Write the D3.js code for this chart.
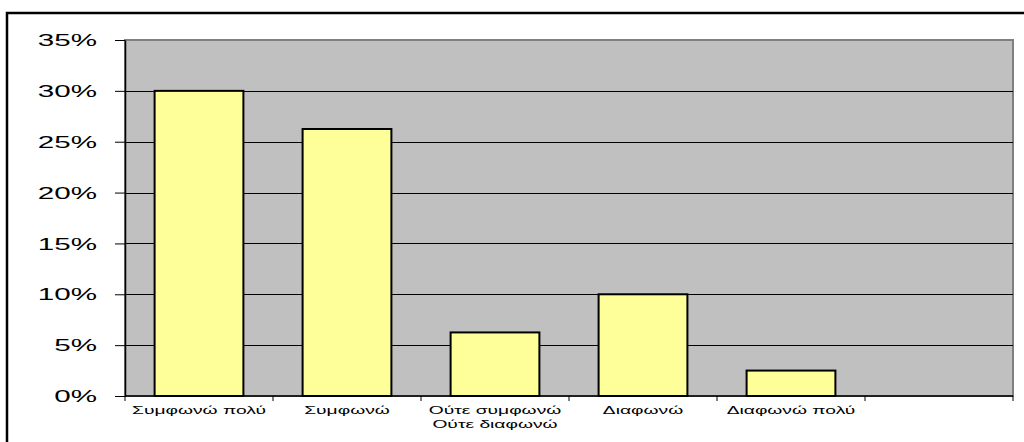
<!DOCTYPE html>
<html>
<head>
<meta charset="utf-8">
<script src="https://cdn.jsdelivr.net/npm/d3@7"></script>
<style>
  body { margin: 0; background: #fff; }
  svg { display: block; font-family: "Liberation Sans", Arial, sans-serif; }
</style>
</head>
<body>
<svg id="chart" width="1024" height="442"></svg>
<script>
// data
var categories = ["Συμφωνώ πολύ", "Συμφωνώ", "Ούτε συμφωνώ|Ούτε διαφωνώ", "Διαφωνώ", "Διαφωνώ πολύ", ""]
var values = [0.30, 0.2625, 0.0625, 0.10, 0.025, null]
var yTicks = [0, 0.05, 0.10, 0.15, 0.20, 0.25, 0.30, 0.35]

var svg = d3.select("#chart")

// outer frame (runs off right and bottom edge)
svg.append("rect")
    .attr("x", 7).attr("y", 13)
    .attr("width", 1040).attr("height", 460)
    .attr("fill", "#fff").attr("stroke", "#000").attr("stroke-width", 2.5)

var plotL = 125, plotT = 40, plotR = 1013, plotB = 396

var x = d3.scaleBand().domain(d3.range(categories.length)).range([plotL, plotR]).paddingInner(0.4).paddingOuter(0.2)
var xb = d3.scaleBand().domain(d3.range(categories.length)).range([plotL, plotR])
var y = d3.scaleLinear().domain([0, 0.35]).range([plotB, plotT])

// plot area
svg.append("rect")
    .attr("x", plotL).attr("y", plotT)
    .attr("width", plotR - plotL).attr("height", plotB - plotT)
    .attr("fill", "#c0c0c0").attr("stroke", "#808080").attr("stroke-width", 2)

// gridlines
svg.append("g").selectAll("line")
    .data(yTicks.slice(1, -1))
    .join("line")
    .attr("x1", plotL).attr("x2", plotR)
    .attr("y1", function(d) { return Math.round(y(d)) + 0.5 })
    .attr("y2", function(d) { return Math.round(y(d)) + 0.5 })
    .attr("stroke", "#000").attr("stroke-width", 1)

// bars
svg.append("g").selectAll("rect")
    .data(values.map(function(v, i) { return {v: v, i: i} }).filter(function(d) { return d.v !== null }))
    .join("rect")
    .attr("x", function(d) { return x(d.i) })
    .attr("width", x.bandwidth())
    .attr("y", function(d) { return y(d.v) })
    .attr("height", function(d) { return y(0) - y(d.v) })
    .attr("fill", "#ffff99").attr("stroke", "#000").attr("stroke-width", 2)

// y axis
var yAxis = svg.append("g")
    .attr("transform", "translate(" + plotL + ",0)")
    .call(d3.axisLeft(y).tickValues(yTicks).tickSize(10).tickSizeOuter(0).tickFormat(d3.format(".0%")))
yAxis.select(".domain").attr("stroke", "#000").attr("stroke-width", 1.5)
yAxis.selectAll(".tick line").attr("stroke", "#000")
yAxis.selectAll(".tick text").remove()
yAxis.selectAll(".tick").append("text")
    .attr("transform", "translate(-28,0) scale(1.85,1)")
    .attr("text-anchor", "end")
    .attr("dy", "0.35em")
    .attr("fill", "#000")
    .style("font-size", "16px")
    .text(function(d) { return d3.format(".0%")(d) })

// x axis
var xAxis = svg.append("g").attr("transform", "translate(0," + plotB + ")")
xAxis.append("line")
    .attr("x1", plotL).attr("x2", plotR)
    .attr("stroke", "#000").attr("stroke-width", 1.5)
xAxis.selectAll(".xtick")
    .data(d3.range(categories.length + 1))
    .join("line")
    .attr("class", "xtick")
    .attr("x1", function(i) { return i < categories.length ? xb(i) : plotR })
    .attr("x2", function(i) { return i < categories.length ? xb(i) : plotR })
    .attr("y1", 0).attr("y2", 5)
    .attr("stroke", "#000")

var labels = xAxis.selectAll(".xlab")
    .data(categories)
    .join("text")
    .attr("class", "xlab")
    .attr("transform", function(d, i) { return "translate(" + (xb(i) + xb.bandwidth() / 2) + ",18) scale(1.75,1)" })
    .attr("text-anchor", "middle")
    .attr("fill", "#000")
    .style("font-size", "11px")
labels.selectAll("tspan")
    .data(function(d) { return d.split("|") })
    .join("tspan")
    .attr("x", 0)
    .attr("dy", function(d, i) { return i === 0 ? 0 : 14 })
    .text(function(d) { return d })
</script>
</body>
</html>
